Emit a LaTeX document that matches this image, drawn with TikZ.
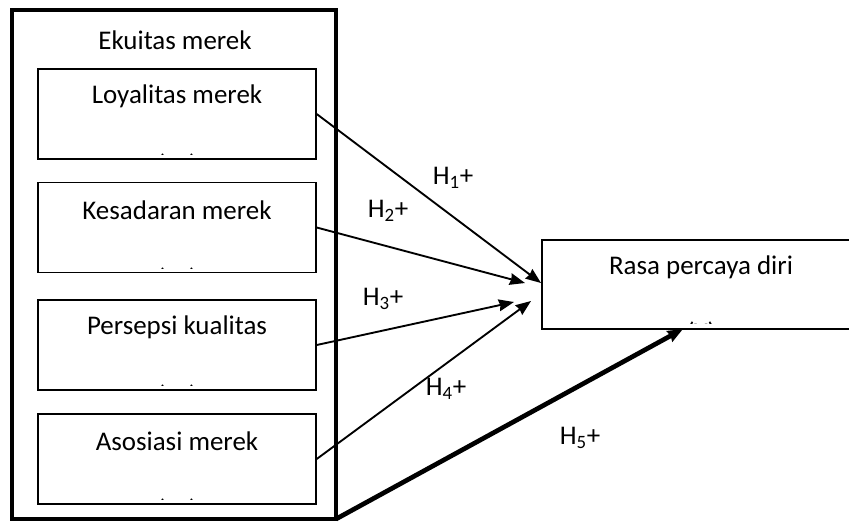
\documentclass[tikz,border=0pt]{standalone}
\usepackage{fontspec}
\setmainfont{Carlito}
\usetikzlibrary{arrows.meta,calc}
\begin{document}
\begin{tikzpicture}[x=0.03cm,y=-0.03cm,>={Stealth[length=13pt,width=10pt,inset=1pt]},
	kotak/.style={draw,line width=1.2pt,inner sep=0pt,minimum width=8.34cm,minimum height=2.7cm},
	teks/.style={font=\fontsize{23}{27}\selectfont},
	panah/.style={->,line width=1.6pt}]
	\useasboundingbox (0,0) rectangle (849,521);
	\clip (0,0) rectangle (849,521);
	%Kotak luar
	\draw[line width=3.8pt] (12,10) rectangle (336,519);
	\coordinate (sudut) at (336,519);
	\node[teks] (ekuitas) at (175,40) {Ekuitas merek};
	%Kotak X1 - X4
	\foreach \nama/\judul/\y/\i in {loyalitas/Loyalitas merek/114/1,kesadaran/Kesadaran merek/227.5/2,persepsi/Persepsi kualitas/345/3,asosiasi/Asosiasi merek/459/4}{
		\node[kotak] (\nama) at (177,\y) {};
		\node[teks] (j\nama) at ($(\nama.north)+(0,28)$) {\judul};
		\begin{scope}
			\clip ($(\nama.south west)+(0,-5)$) rectangle (\nama.north east);
			\node[teks,anchor=north] (x\nama) at ($(\nama.south)+(0,-10)$) {(X\textsubscript{\i})};
		\end{scope}
	}
	%Kotak Y
	\node[draw,line width=1.2pt,inner sep=0pt,minimum width=12cm,minimum height=2.67cm] (rasa) at (742,284.5) {};
	\node[teks] (jrasa) at (701,267) {Rasa percaya diri};
	\begin{scope}
		\clip ($(rasa.south west)+(0,-6)$) rectangle (rasa.north east);
		\node[teks,anchor=north] (yrasa) at (701,318) {(Y)};
	\end{scope}
	%Ujung panah
	\coordinate (t1) at (541,283);
	\coordinate (t2) at (525,283);
	\coordinate (t3) at (514,302);
	\coordinate (t4) at (531,301);
	\coordinate (t5) at (683,329);
	%Panah H1 - H5
	\draw[panah] (loyalitas.east)--(t1);
	\draw[panah] (kesadaran.east)--(t2);
	\draw[panah] (persepsi.east)--(t3);
	\draw[panah] (asosiasi.east)--(t4);
	\draw[->,line width=4pt] (sudut)--(t5);
	%Label hipotesis
	\node[teks] (h1) at (453,178) {H\textsubscript{1}+};
	\node[teks] (h2) at (388,211) {H\textsubscript{2}+};
	\node[teks] (h3) at (383,299) {H\textsubscript{3}+};
	\node[teks] (h4) at (446,389) {H\textsubscript{4}+};
	\node[teks] (h5) at (580,438) {H\textsubscript{5}+};
\end{tikzpicture}
\end{document}
